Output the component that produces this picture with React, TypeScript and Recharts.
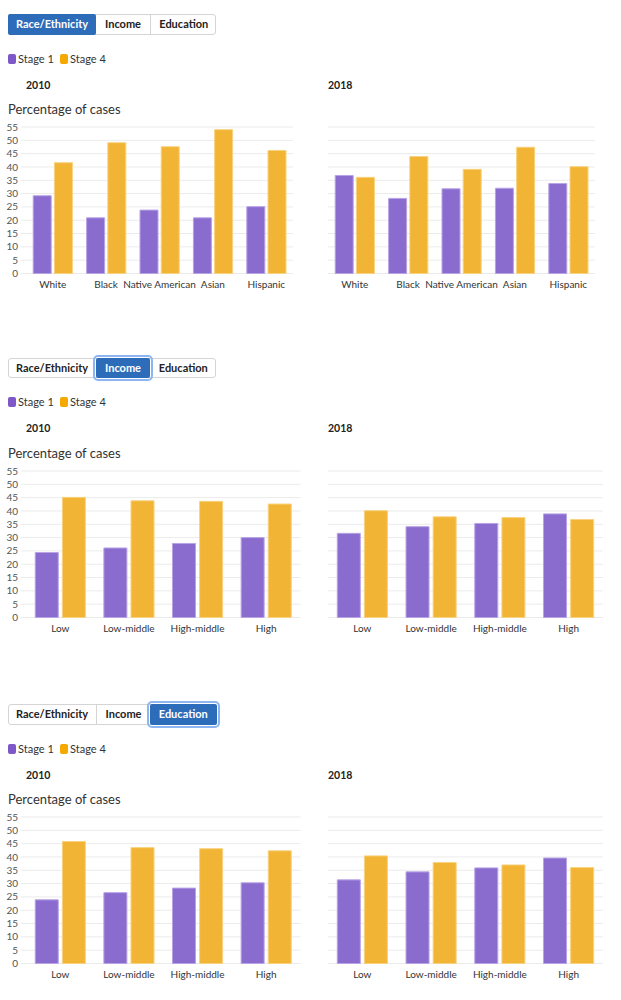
import React from 'react';
import { BarChart, Bar, XAxis, YAxis, CartesianGrid } from 'recharts';

const raceCategories = ['White', 'Black', 'Native American', 'Asian', 'Hispanic'];
const race2010Stage1 = [29.2, 20.9, 23.8, 20.9, 25.1];
const race2010Stage4 = [41.6, 49.1, 47.6, 54.0, 46.2];
const race2018Stage1 = [36.8, 28.2, 31.8, 32.0, 33.8];
const race2018Stage4 = [36.1, 43.9, 39.1, 47.4, 40.1];

const incomeCategories = ['Low', 'Low-middle', 'High-middle', 'High'];
const income2010Stage1 = [24.4, 26.1, 27.8, 30.0];
const income2010Stage4 = [45.1, 43.8, 43.6, 42.6];
const income2018Stage1 = [31.6, 34.1, 35.3, 38.9];
const income2018Stage4 = [40.1, 37.8, 37.5, 36.8];

const educationCategories = ['Low', 'Low-middle', 'High-middle', 'High'];
const education2010Stage1 = [23.9, 26.6, 28.3, 30.3];
const education2010Stage4 = [45.8, 43.5, 43.1, 42.3];
const education2018Stage1 = [31.4, 34.4, 35.9, 39.6];
const education2018Stage4 = [40.4, 37.9, 37.0, 36.0];

const yTicks = [0, 5, 10, 15, 20, 25, 30, 35, 40, 45, 50, 55];
const tabLabels = ['Race/Ethnicity', 'Income', 'Education'];
const seriesNames = ['Stage 1', 'Stage 4'];
const yearLabels = ['2010', '2018'];
const axisTitle = 'Percentage of cases';

const FONT = 'Lato, "Source Sans Pro", "Open Sans", sans-serif';
const PURPLE = '#8a6cce';
const PURPLE_EDGE = '#b7a3e6';
const ORANGE = '#f2b434';
const ORANGE_EDGE = '#f8d27e';
const LEG_PURPLE = '#7e57c8';
const LEG_ORANGE = '#f5a800';

type ChartProps = {
  categories: string[];
  s1: number[];
  s4: number[];
  left: number;
  top: number;
  plotWidth: number;
  showY: boolean;
};

const PLOT_H = 146.5;
const MT = 5;
const XH = 30;

function Panel({ categories, s1, s4, left, top, plotWidth, showY }: ChartProps) {
  const data = categories.map((c, i) => ({ name: c, stage1: s1[i], stage4: s4[i] }));
  const yW = showY ? 21 : 0;
  const padL = showY ? 5 : 0;
  return (
    <div style={{ position: 'absolute', left, top: top - MT }}>
      <BarChart
        width={yW + plotWidth}
        height={MT + PLOT_H + XH}
        data={data}
        margin={{ top: MT, right: 0, bottom: 0, left: 0 }}
        barCategoryGap="13.5%"
        barGap="6%"
      >
        <CartesianGrid vertical={false} stroke="#ebebeb" strokeWidth={1} />
        <XAxis
          dataKey="name"
          axisLine={false}
          tickLine={false}
          tickSize={0}
          tickMargin={7}
          height={XH}
          interval={0}
          padding={{ left: padL, right: 0 }}
          tick={{ fontSize: 10, fill: '#333', fontFamily: FONT }}
        />
        <YAxis
          hide={!showY}
          width={yW}
          domain={[0, 55]}
          ticks={yTicks}
          interval={0}
          axisLine={false}
          tickLine={false}
          tickSize={0}
          tickMargin={3}
          tick={{ fontSize: 10, fill: '#555', fontFamily: FONT }}
        />
        <Bar dataKey="stage1" fill={PURPLE} stroke={PURPLE_EDGE} strokeWidth={1} isAnimationActive={false} />
        <Bar dataKey="stage4" fill={ORANGE} stroke={ORANGE_EDGE} strokeWidth={1} isAnimationActive={false} />
      </BarChart>
    </div>
  );
}

const tabWidths = [88, 54, 66.5];

function Tabs({ top, active, focused }: { top: number; active: number; focused: boolean }) {
  let x = 8;
  return (
    <div>
      <div
        style={{
          position: 'absolute',
          left: 7.5,
          top,
          width: tabWidths.reduce((a, b) => a + b, 0),
          height: 20.5,
          border: '1px solid #d4d4d4',
          borderRadius: 3,
          boxSizing: 'border-box',
          background: '#fff',
        }}
      />
      {tabLabels.map((t, i) => {
        const l = x;
        x += tabWidths[i];
        const isA = i === active;
        return (
          <div
            key={t}
            style={{
              position: 'absolute',
              left: l,
              top,
              width: tabWidths[i],
              height: 20.5,
              boxSizing: 'border-box',
              background: isA ? '#2d6cb9' : 'transparent',
              color: isA ? '#fff' : '#222',
              borderLeft: i > 0 && !isA && i - 1 !== active ? '1px solid #d4d4d4' : 'none',
              borderRadius: isA ? 2 : 0,
              outline: isA && focused ? '2px solid #8db5f2' : 'none',
              outlineOffset: 1,
              fontFamily: FONT,
              fontWeight: 700,
              fontSize: 11,
              lineHeight: '20.5px',
              textAlign: 'center',
            }}
          >
            {t}
          </div>
        );
      })}
    </div>
  );
}

function Legend({ cy }: { cy: number }) {
  const items = [
    { name: seriesNames[0], color: LEG_PURPLE, x: 7.5 },
    { name: seriesNames[1], color: LEG_ORANGE, x: 59.5 },
  ];
  return (
    <div>
      {items.map((it) => (
        <div key={it.name}>
          <div
            style={{
              position: 'absolute',
              left: it.x,
              top: cy - 5,
              width: 8.5,
              height: 10,
              borderRadius: 2,
              background: it.color,
            }}
          />
          <div
            style={{
              position: 'absolute',
              left: it.x + 10.5,
              top: cy - 8,
              height: 16,
              lineHeight: '16px',
              fontSize: 11,
              fontFamily: FONT,
              color: '#333',
              whiteSpace: 'nowrap',
            }}
          >
            {it.name}
          </div>
        </div>
      ))}
    </div>
  );
}

function Label({ x, cy, text, size, bold }: { x: number; cy: number; text: string; size: number; bold?: boolean }) {
  return (
    <div
      style={{
        position: 'absolute',
        left: x,
        top: cy - 10,
        height: 20,
        lineHeight: '20px',
        fontSize: size,
        fontWeight: bold ? 700 : 400,
        fontFamily: FONT,
        color: bold ? '#222' : '#333',
        whiteSpace: 'nowrap',
      }}
    >
      {text}
    </div>
  );
}

type SectionProps = {
  base: number;
  active: number;
  focused: boolean;
  categories: string[];
  a1: number[];
  a4: number[];
  b1: number[];
  b4: number[];
  leftPlotW: number;
  rightPlotW: number;
};

function Section({ base, active, focused, categories, a1, a4, b1, b4, leftPlotW, rightPlotW }: SectionProps) {
  return (
    <div>
      <Tabs top={14 + base} active={active} focused={focused} />
      <Legend cy={58.5 + base} />
      <Label x={26} cy={84.5 + base} text={yearLabels[0]} size={10.5} bold />
      <Label x={328} cy={84.5 + base} text={yearLabels[1]} size={10.5} bold />
      <Label x={8} cy={109 + base} text={axisTitle} size={13} />
      <Panel categories={categories} s1={a1} s4={a4} left={0} top={127 + base} plotWidth={leftPlotW} showY />
      <Panel categories={categories} s1={b1} s4={b4} left={328} top={127 + base} plotWidth={rightPlotW} showY={false} />
    </div>
  );
}

export default function App() {
  return (
    <div style={{ position: 'absolute', left: 0, top: 0, width: 621, height: 1000, background: '#fff', fontFamily: FONT }}>
      <Section
        base={0}
        active={0}
        focused={false}
        categories={raceCategories}
        a1={race2010Stage1}
        a4={race2010Stage4}
        b1={race2018Stage1}
        b4={race2018Stage4}
        leftPlotW={272}
        rightPlotW={267}
      />
      <Section
        base={343.5}
        active={1}
        focused
        categories={incomeCategories}
        a1={income2010Stage1}
        a4={income2010Stage4}
        b1={income2018Stage1}
        b4={income2018Stage4}
        leftPlotW={279.5}
        rightPlotW={275}
      />
      <Section
        base={690}
        active={2}
        focused
        categories={educationCategories}
        a1={education2010Stage1}
        a4={education2010Stage4}
        b1={education2018Stage1}
        b4={education2018Stage4}
        leftPlotW={279.5}
        rightPlotW={275}
      />
    </div>
  );
}
